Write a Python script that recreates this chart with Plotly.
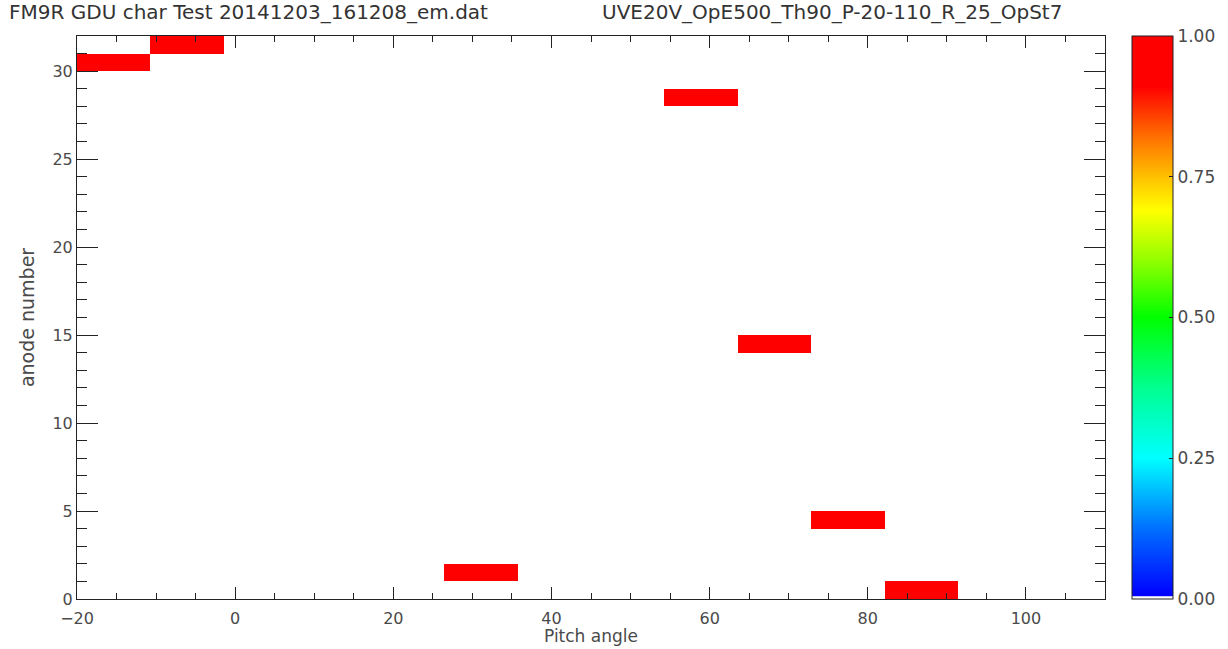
import plotly.graph_objects as go

# Data
pitch_edges = [-20, -10.71, -1.43, 7.86, 17.14, 26.43, 35.71, 45.0, 54.29,
               63.57, 72.86, 82.14, 91.43, 100.71, 110]
anode_edges = list(range(0, 33))
# hits: (pitch bin index, anode number)
hit_pitch_bin = [0, 1, 5, 8, 9, 10, 11]
hit_anode = [30, 31, 1, 28, 14, 4, 0]
hit_value = [1, 1, 1, 1, 1, 1, 1]

n_x = len(pitch_edges) - 1
n_y = len(anode_edges) - 1
z = [[0.0] * n_x for _ in range(n_y)]
for b, a, v in zip(hit_pitch_bin, hit_anode, hit_value):
    z[a][b] = v

title_left = "FM9R GDU char Test 20141203_161208_em.dat"
title_right = "UVE20V_OpE500_Th90_P-20-110_R_25_OpSt7"
x_title = "Pitch angle"
y_title = "anode number"

colorscale = [
    [0.0, "#ffffff"], [0.004, "#ffffff"], [0.006, "#0000ff"],
    [0.125, "#0070ff"], [0.25, "#00ffff"], [0.375, "#00ff90"],
    [0.5, "#00ff00"], [0.6, "#90ff00"], [0.69, "#ffff00"],
    [0.75, "#ffc000"], [0.82, "#ff7000"], [0.91, "#ff0000"], [1.0, "#ff0000"],
]

font_family = "DejaVu Sans"
txt_color = "#4a4a4a"

fig = go.Figure(go.Heatmap(
    x=pitch_edges, y=anode_edges, z=z, zmin=0, zmax=1,
    colorscale=colorscale, zsmooth=False, hoverinfo="skip",
    colorbar=dict(
        x=(1132 - 77) / 1028, xanchor="left", xpad=0, ypad=0,
        y=0, yanchor="bottom", len=1, lenmode="fraction",
        thickness=41, thicknessmode="pixels",
        outlinecolor="#222222", outlinewidth=1,
        tickvals=[0, 0.25, 0.5, 0.75, 1.0],
        ticktext=["0.00", "0.25", "0.50", "0.75", "1.00"],
        ticks="inside", ticklen=4, tickcolor="#222222",
        tickfont=dict(family=font_family, size=17, color=txt_color),
    ),
))

fig.update_layout(
    width=1228, height=649,
    margin=dict(l=77, r=123, t=36, b=50, autoexpand=False),
    paper_bgcolor="white", plot_bgcolor="white",
    showlegend=False,
    xaxis=dict(
        range=[-20, 110], tick0=-20, dtick=20,
        ticks="inside", ticklen=12, tickcolor="#222222",
        minor=dict(dtick=5, ticks="inside", ticklen=6, tickcolor="#222222"),
        showline=True, linecolor="#222222", linewidth=1, mirror="ticks",
        showgrid=False, zeroline=False, ticklabelstandoff=5,
        tickfont=dict(family=font_family, size=16, color=txt_color),
    ),
    yaxis=dict(
        range=[0, 32], tick0=0, dtick=5,
        ticks="inside", ticklen=21, tickcolor="#222222",
        minor=dict(dtick=1, ticks="inside", ticklen=10, tickcolor="#222222"),
        showline=True, linecolor="#222222", linewidth=1, mirror="ticks",
        showgrid=False, zeroline=False,
        tickfont=dict(family=font_family, size=16, color=txt_color),
        title=dict(text=y_title, standoff=12,
                   font=dict(family=font_family, size=19, color=txt_color)),
    ),
    annotations=[
        dict(text=title_left, xref="paper", yref="paper",
             x=(7 - 77) / 1028, y=(599 - 12) / 563, xanchor="left", yanchor="middle",
             showarrow=False, font=dict(family=font_family, size=20, color="#333333")),
        dict(text=title_right, xref="paper", yref="paper",
             x=(600 - 77) / 1028, y=(599 - 12) / 563, xanchor="left", yanchor="middle",
             showarrow=False, font=dict(family=font_family, size=20, color="#333333")),
        dict(text=x_title, xref="paper", yref="paper",
             x=(591 - 77) / 1028, y=(599 - 636) / 563, xanchor="center", yanchor="middle",
             showarrow=False, borderpad=0,
             font=dict(family=font_family, size=17, color=txt_color)),
    ],
)

fig.write_html("out.html", config={"displayModeBar": False},
               post_script="document.body.style.margin='0';document.body.style.overflow='hidden';")
